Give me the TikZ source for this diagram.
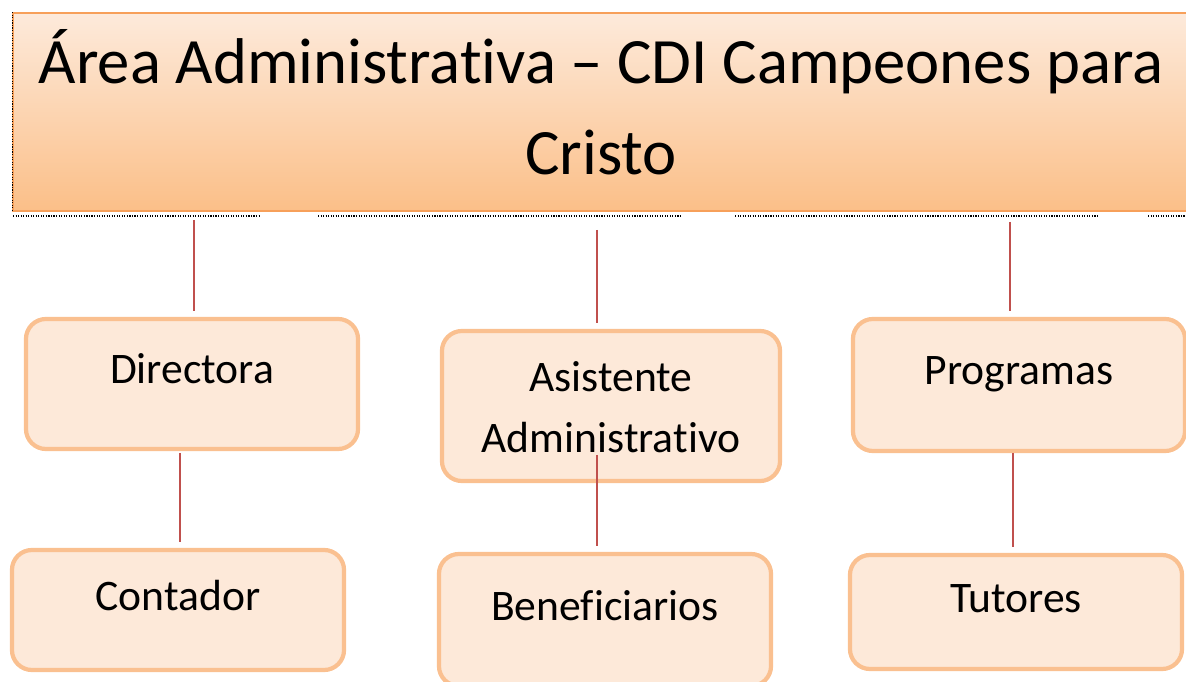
\documentclass[tikz,border=0pt]{standalone}
\usepackage{fontspec}
\setmainfont{Carlito}[Ligatures=NoCommon]
\definecolor{boxfill}{RGB}{253,233,217}
\definecolor{boxline}{RGB}{250,192,144}
\definecolor{hdrtop}{RGB}{253,234,219}
\definecolor{hdrbot}{RGB}{251,191,136}
\definecolor{hdrline}{RGB}{247,160,90}
\definecolor{linkred}{RGB}{192,80,77}
\begin{document}
\begin{tikzpicture}[x=0.025cm, y=-0.025cm,
    cargo/.style={draw=boxline, fill=boxfill, line width=3pt, rounded corners=0.5cm,
      minimum width=8.3cm, inner sep=0pt, align=center,
      font=\fontsize{31}{42.7}\selectfont, text height=0.5cm, text depth=0.5cm},
    link/.style={draw=linkred, line width=0.9pt}]
  \useasboundingbox (0,0) rectangle (1186,682);

  % cabecera
  \node[top color=hdrtop, bottom color=hdrbot, draw=hdrline, line width=1pt,
    minimum width=29.4cm, minimum height=4.95cm, inner sep=0pt, align=center,
    text depth=0.5cm, font=\fontsize{46}{64.5}\selectfont] (area) at (601,112)
    {Área Administrativa – CDI Campeones para\\Cristo};
  \draw[densely dotted, line width=0.8pt] (area.north west) -- (area.south west);
  \draw[densely dotted, line width=0.8pt]
    (13,216) -- (260,216) (318,216) -- (680,216)
    (735,216) -- (1097,216) (1148,216) -- (1186,216);

  % cargos
  \node[cargo, minimum height=3.25cm] (dir)  at (192,384) {Directora};
  \node[cargo, minimum height=3.0cm]  (cont) at (178,610) {Contador};
  \node[cargo, minimum width=8.45cm, minimum height=3.75cm,
    text height=2.8cm, text depth=0.5cm] (asis) at (611,406)
    {Asistente\\Administrativo};
  \node[cargo, minimum height=3.3cm]  (bene) at (605,620) {Beneficiarios};
  \node[cargo, minimum height=3.3cm]  (prog) at (1019,385) {Programas};
  \node[cargo, minimum height=2.85cm] (tut)  at (1016,612) {Tutores};

  % enlaces
  \coordinate (h1) at (194,220);
  \coordinate (h2) at (597,230);
  \coordinate (h3) at (1010,222);
  \coordinate (d1) at (180,453);
  \coordinate (d2) at (597,455);
  \coordinate (d3) at (1013,453);
  \begin{scope}[shorten >=0.15cm]
    \draw[link] (h1) -- (h1 |- dir.north);
    \draw[link] (h2) -- (h2 |- asis.north);
    \draw[link] (h3) -- (h3 |- prog.north);
    \draw[link] (d1) -- (d1 |- cont.north);
    \draw[link] (d2) -- (d2 |- bene.north);
    \draw[link] (d3) -- (d3 |- tut.north);
  \end{scope}
\end{tikzpicture}
\end{document}
